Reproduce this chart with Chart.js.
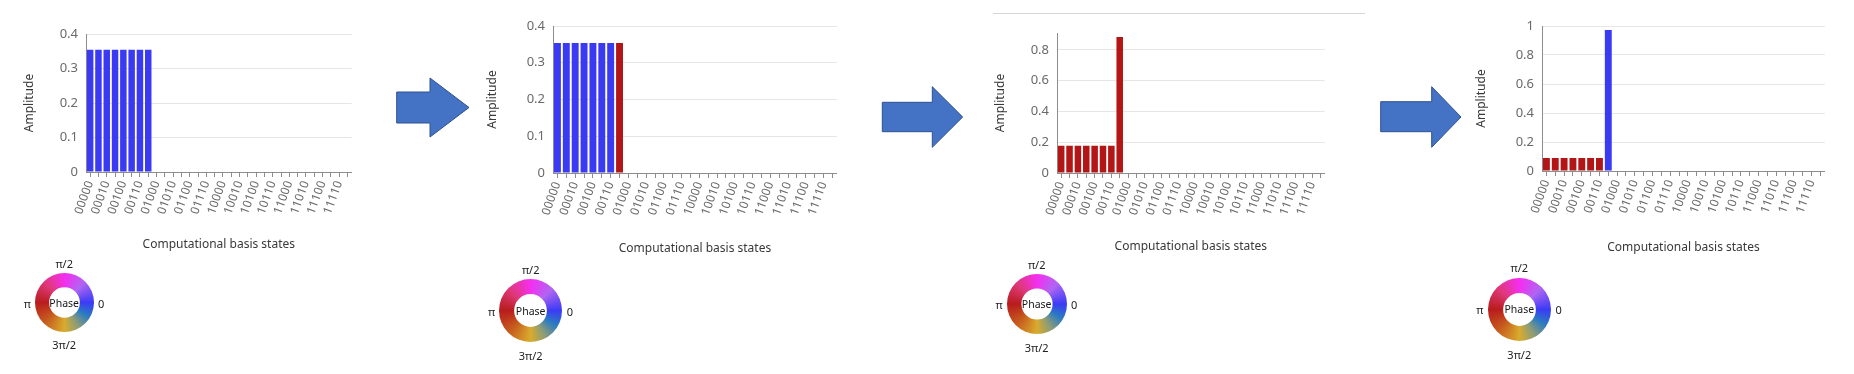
<!DOCTYPE html>
<html>
<head>
<meta charset="utf-8">
<script src="https://cdn.jsdelivr.net/npm/chart.js@4/dist/chart.umd.min.js"></script>
<style>
    html, body { margin: 0; padding: 0; background: #fff; }
    body { width: 1854px; height: 374px; position: relative; overflow: hidden; font-family: 'Noto Sans', sans-serif; }
    canvas { position: absolute; }
    .lbl { position: absolute; transform: translate(-50%, -50%); font-size: 11px; color: #222; white-space: nowrap; }
    .ph { font-size: 10.5px; color: #161616; }
    svg { position: absolute; left: 0; top: 0; }
</style>
</head>
<body>
<svg width="1854" height="374">
    <line x1="993" y1="13.5" x2="1365" y2="13.5" stroke="#d6d6d6" stroke-width="1.2"/>
    <polygon points="396.7,92 430,92 430,78 469,107.5 430,137 430,123 396.7,123" fill="#4472c4" stroke="#2f528f" stroke-width="1"/>
    <polygon points="882.3,102.3 932.3,102.3 932.3,86.7 962.7,117 932.3,147.3 932.3,131.7 882.3,131.7" fill="#4472c4" stroke="#2f528f" stroke-width="1"/>
    <polygon points="1380.7,101.7 1431.7,101.7 1431.7,86.7 1461,117 1431.7,147.3 1431.7,131.7 1380.7,131.7" fill="#4472c4" stroke="#2f528f" stroke-width="1"/>
</svg>
<canvas id="bar1"></canvas>
<canvas id="bar2"></canvas>
<canvas id="bar3"></canvas>
<canvas id="bar4"></canvas>
<script>
// computational basis states (5 qubits)
const states = ['00000', '00001', '00010', '00011', '00100', '00101', '00110', '00111',
    '01000', '01001', '01010', '01011', '01100', '01101', '01110', '01111',
    '10000', '10001', '10010', '10011', '10100', '10101', '10110', '10111',
    '11000', '11001', '11010', '11011', '11100', '11101', '11110', '11111'];

// amplitudes
const amp1 = [0.354, 0.354, 0.354, 0.354, 0.354, 0.354, 0.354, 0.354,
    0, 0, 0, 0, 0, 0, 0, 0, 0, 0, 0, 0, 0, 0, 0, 0, 0, 0, 0, 0, 0, 0, 0, 0];
const amp2 = [0.354, 0.354, 0.354, 0.354, 0.354, 0.354, 0.354, 0.354,
    0, 0, 0, 0, 0, 0, 0, 0, 0, 0, 0, 0, 0, 0, 0, 0, 0, 0, 0, 0, 0, 0, 0, 0];
const amp3 = [0.177, 0.177, 0.177, 0.177, 0.177, 0.177, 0.177, 0.884,
    0, 0, 0, 0, 0, 0, 0, 0, 0, 0, 0, 0, 0, 0, 0, 0, 0, 0, 0, 0, 0, 0, 0, 0];
const amp4 = [0.089, 0.089, 0.089, 0.089, 0.089, 0.089, 0.089, 0.973,
    0, 0, 0, 0, 0, 0, 0, 0, 0, 0, 0, 0, 0, 0, 0, 0, 0, 0, 0, 0, 0, 0, 0, 0];

// phase of each state, in units of pi (0 -> blue, 1 -> red)
const phase1 = [0, 0, 0, 0, 0, 0, 0, 0, 0, 0, 0, 0, 0, 0, 0, 0, 0, 0, 0, 0, 0, 0, 0, 0, 0, 0, 0, 0, 0, 0, 0, 0];
const phase2 = [0, 0, 0, 0, 0, 0, 0, 1, 0, 0, 0, 0, 0, 0, 0, 0, 0, 0, 0, 0, 0, 0, 0, 0, 0, 0, 0, 0, 0, 0, 0, 0];
const phase3 = [1, 1, 1, 1, 1, 1, 1, 1, 0, 0, 0, 0, 0, 0, 0, 0, 0, 0, 0, 0, 0, 0, 0, 0, 0, 0, 0, 0, 0, 0, 0, 0];
const phase4 = [1, 1, 1, 1, 1, 1, 1, 0, 0, 0, 0, 0, 0, 0, 0, 0, 0, 0, 0, 0, 0, 0, 0, 0, 0, 0, 0, 0, 0, 0, 0, 0];

const yMax = [0.4, 0.4, 0.91, 1];
const yStep = [0.1, 0.1, 0.2, 0.2];

const BLUE = '#3a3af2';
const RED = '#b31616';
const AXIS = '#8d8d8d';
const GRID = '#e6e6e6';
const TICK = '#6a6a6a';
const TITLE = '#393939';

Chart.defaults.font.family = "'Noto Sans', sans-serif";
Chart.defaults.devicePixelRatio = 1;

// left, top, width, height, top padding, y axis width, x axis height
const panels = [
    {id: 'bar1', left: 22, top: 0, w: 341, h: 252, padTop: 34, yw: 64, xh: 80},
    {id: 'bar2', left: 485, top: 0, w: 363, h: 256, padTop: 26, yw: 68, xh: 83},
    {id: 'bar3', left: 993, top: 0, w: 343, h: 254, padTop: 33, yw: 64, xh: 81},
    {id: 'bar4', left: 1474, top: 0, w: 362, h: 255, padTop: 26, yw: 68, xh: 84}
];

const amps = [amp1, amp2, amp3, amp4];
const phases = [phase1, phase2, phase3, phase4];

const makeBar = (p, data, phase, max, step) => {
    let cv = document.getElementById(p.id);
    cv.width = p.w;
    cv.height = p.h;
    cv.style.left = p.left + 'px';
    cv.style.top = p.top + 'px';
    new Chart(cv, {
        type: 'bar',
        data: {
            labels: states,
            datasets: [{
                data: data,
                backgroundColor: phase.map(v => v === 1 ? RED : BLUE),
                barPercentage: 0.78,
                categoryPercentage: 1
            }]
        },
        options: {
            responsive: false,
            animation: false,
            layout: { padding: { top: p.padTop, right: 2, left: 0, bottom: 0 } },
            plugins: { legend: { display: false }, tooltip: { enabled: false } },
            scales: {
                x: {
                    grid: { drawOnChartArea: false, offset: false, tickLength: 5, color: AXIS },
                    border: { color: AXIS, width: 1 },
                    ticks: {
                        autoSkip: false, minRotation: 70, maxRotation: 70, padding: 2,
                        color: TICK, font: { size: 12 },
                        callback: function (v, i) { return i % 2 === 0 ? this.getLabelForValue(v) : ''; }
                    },
                    title: { display: true, text: 'Computational basis states', color: TITLE, padding: 0, font: { size: 12 } },
                    afterFit: s => { s.height = p.xh; }
                },
                y: {
                    min: 0, max: max,
                    grid: { drawTicks: false, color: GRID },
                    border: { color: AXIS, width: 1 },
                    ticks: {
                        stepSize: step, includeBounds: false, padding: 8, color: TICK, font: { size: 13 },
                        callback: v => String(Number(v.toFixed(2)))
                    },
                    title: { display: true, text: 'Amplitude', color: TITLE, padding: 0, font: { size: 12 } },
                    afterFit: s => { s.width = p.yw; }
                }
            }
        }
    });
}

for (let i = 0; i < panels.length; i++) {
    makeBar(panels[i], amps[i], phases[i], yMax[i], yStep[i]);
}

// phase colour wheel legend (colour per angle, counter-clockwise from 0)
const wheelAngles = [0, 45, 90, 135, 180, 225, 270, 300, 330, 360];
const wheelColors = ['#3b3bf5', '#b065f2', '#f52ef0', '#de3878', '#b81c1c', '#c65c1e', '#d9ab2d', '#8c9c78', '#2b7bc2', '#3b3bf5'];
const wheels = [
    {x: 64.2, y: 302.5, r: 29.5},
    {x: 530.7, y: 310.7, r: 31.3},
    {x: 1036.7, y: 304, r: 30},
    {x: 1519.3, y: 309, r: 31.5}
];

const addLabel = (text, x, y, cls) => {
    let d = document.createElement('div');
    d.className = 'lbl' + (cls ? ' ' + cls : '');
    d.textContent = text;
    d.style.left = x + 'px';
    d.style.top = y + 'px';
    document.body.appendChild(d);
}

wheels.forEach(w => {
    let cv = document.createElement('canvas');
    let size = Math.round(w.r * 2);
    cv.width = size;
    cv.height = size;
    cv.style.left = (w.x - size / 2) + 'px';
    cv.style.top = (w.y - size / 2) + 'px';
    document.body.appendChild(cv);
    new Chart(cv, {
        type: 'doughnut',
        data: {
            labels: ['Phase'],
            datasets: [{
                data: [1],
                borderWidth: 0,
                backgroundColor: function (ctx) {
                    let c = ctx.chart.ctx;
                    let area = ctx.chart.chartArea;
                    if (!area) return BLUE;
                    let cx = (area.left + area.right) / 2;
                    let cy = (area.top + area.bottom) / 2;
                    let g = c.createConicGradient(0, cx, cy);
                    for (let k = wheelAngles.length - 1; k >= 0; k--) {
                        g.addColorStop(1 - wheelAngles[k] / 360, wheelColors[k]);
                    }
                    return g;
                }
            }]
        },
        options: {
            responsive: false,
            animation: false,
            cutout: '52%',
            layout: { padding: 0 },
            plugins: { legend: { display: false }, tooltip: { enabled: false } }
        }
    });
    let k = w.r / 30;
    addLabel('Phase', w.x, w.y, 'ph');
    addLabel('π/2', w.x, w.y - 40 * k);
    addLabel('3π/2', w.x, w.y + 42.5 * k);
    addLabel('π', w.x - 37.5 * k, w.y);
    addLabel('0', w.x + 37.5 * k, w.y);
});
</script>
</body>
</html>
